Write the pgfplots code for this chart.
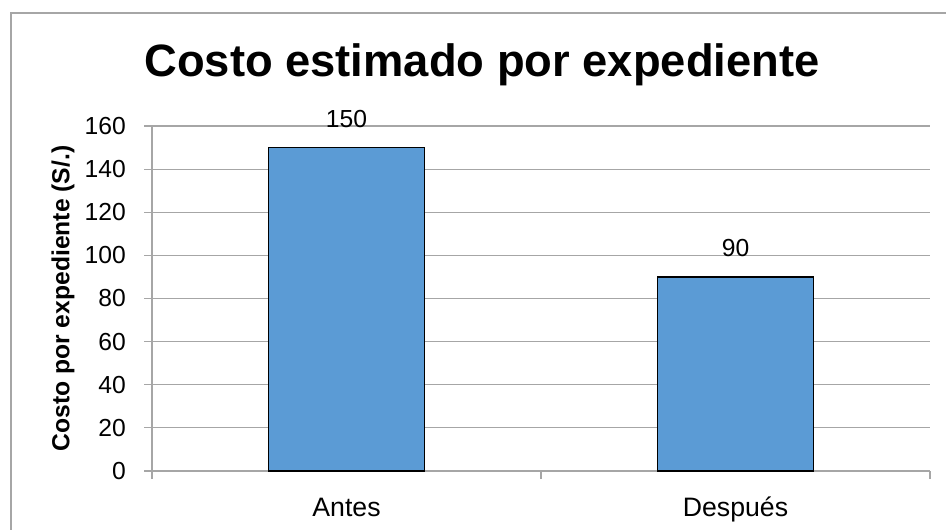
\documentclass[border=0pt]{standalone}
\usepackage{fontspec}
\setmainfont{Liberation Sans}
\usepackage{pgfplots}
\pgfplotsset{compat=1.18}
\definecolor{barblue}{HTML}{5B9BD5}
\definecolor{gridgray}{HTML}{A6A6A6}
\begin{document}
\begin{tikzpicture}
% page is 946x529 px, 1 px = 0.75pt
\path[use as bounding box] (0pt,0pt) rectangle (709.5pt,396.75pt);
\draw[gridgray, line width=1.1pt] (8.25pt,-5pt) -- (8.25pt,387pt) -- (720pt,387pt);
\node[anchor=base, font=\bfseries\fontsize{34}{40}\selectfont] at (361.5pt,339pt) {Costo estimado por expediente};
\begin{axis}[
    at={(114pt,43.5pt)}, anchor=south west,
    scale only axis,
    width=583.5pt, height=258.75pt,
    ybar,
    bar width=117pt,
    xmin=-0.5, xmax=1.5,
    ymin=0, ymax=160,
    axis lines=left,
    axis line style={gridgray, line width=0.9pt, -},
    ytick={0,20,...,160},
    xtick={0,1},
    xticklabels={Antes,Después},
    minor xtick={-0.5,0.5,1.5},
    tick align=outside,
    major tick length=6pt,
    minor tick length=6pt,
    tick style={gridgray, line width=0.9pt},
    major x tick style={draw=none},
    ymajorgrids,
    grid style={gridgray, line width=0.9pt},
    /pgf/number format/assume math mode=true,
    yticklabel style={font=\fontsize{18.5}{22}\selectfont, anchor=east, inner sep=0pt, xshift=-13.5pt},
    xticklabel style={font=\fontsize{20}{24}\selectfont, anchor=north, text height=14.3pt, yshift=-10.5pt},
    ylabel={Costo por expediente (S/.)},
    ylabel style={font=\bfseries\fontsize{18.5}{22}\selectfont, at={(rel axis cs:-0.1144,0.5)}, anchor=center, rotate=0},
    nodes near coords,
    every node near coord/.append style={font=\fontsize{18.5}{22}\selectfont, anchor=base, inner sep=0pt, yshift=15pt, text=black},
]
\addplot[fill=barblue, draw=black, line width=1.2pt] coordinates {(0,150) (1,90)};
\end{axis}
\end{tikzpicture}
\end{document}
